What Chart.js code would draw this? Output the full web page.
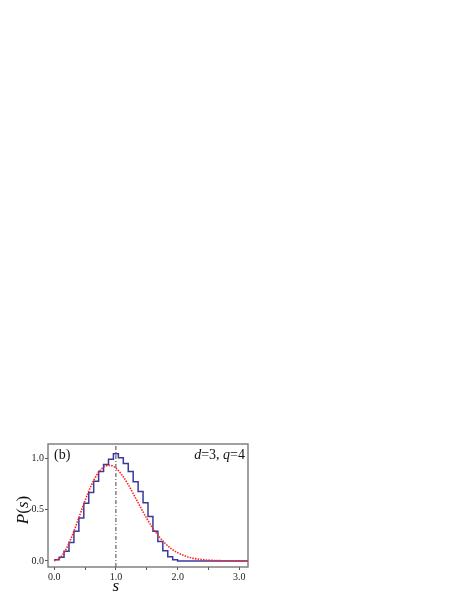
<!DOCTYPE html>
<html>
<head>
<meta charset="utf-8">
<script src="https://cdn.jsdelivr.net/npm/chart.js@4.4.0/dist/chart.umd.min.js"></script>
<style>
  html, body { margin: 0; padding: 0; background: #fff; }
  canvas { display: block; }
</style>
</head>
<body>
<canvas id="spacing" width="469" height="607"></canvas>
<script>
// level spacing histogram (bin width 0.08) and the red dotted surmise curve
var binStarts = [0, 0.08, 0.16, 0.24, 0.32, 0.40, 0.48, 0.56, 0.64, 0.72, 0.80, 0.88, 0.96,
  1.04, 1.12, 1.20, 1.28, 1.36, 1.44, 1.52, 1.60, 1.68, 1.76, 1.84, 1.92, 2.00, 3.14];
var histValues = [0.01, 0.035, 0.095, 0.18, 0.29, 0.42, 0.565, 0.67, 0.78, 0.875, 0.945, 0.995, 1.05,
  1.01, 0.955, 0.875, 0.775, 0.68, 0.57, 0.435, 0.29, 0.19, 0.10, 0.04, 0.01, 0, 0];

var curveS = [0, 0.1, 0.2, 0.3, 0.4, 0.5, 0.6, 0.7, 0.8, 0.9, 1.0, 1.1, 1.2, 1.3, 1.4, 1.5,
  1.6, 1.7, 1.8, 1.9, 2.0, 2.2, 2.4, 2.6, 2.8, 3.0, 3.14];
var curveP = [0, 0.032, 0.123, 0.26, 0.423, 0.59, 0.738, 0.851, 0.919, 0.936, 0.908, 0.84, 0.747,
  0.637, 0.524, 0.416, 0.319, 0.237, 0.17, 0.118, 0.08, 0.033, 0.012, 0.004, 0.001, 0, 0];

var refS = [1.0, 1.0];
var refP = [-0.06, 1.145];

var xTicks = [0, 1, 2, 3];
var yTicks = [0, 0.5, 1];

function pts(xs, ys) {
  return xs.map(function (x, i) { return { x: x, y: ys[i] }; });
}

var serif = "'Liberation Serif', 'DejaVu Serif', serif";

// frame + annotation text
var decor = {
  id: "decor",
  afterDatasetsDraw: function (chart) {
    var ctx = chart.ctx;
    var a = chart.chartArea;
    ctx.save();
    ctx.strokeStyle = "#6e6e6e";
    ctx.lineWidth = 1.3;
    ctx.strokeRect(a.left, a.top, a.right - a.left, a.bottom - a.top);

    ctx.fillStyle = "#111";
    ctx.textBaseline = "middle";
    ctx.font = "14px " + serif;
    ctx.textAlign = "left";
    ctx.fillText("(b)", a.left + 6, a.top + 11);

    // d=3, q=4 (right aligned, mixed italic)
    var parts = [["d", true], ["=3, ", false], ["q", true], ["=4", false]];
    var w = 0;
    parts.forEach(function (p) {
      ctx.font = (p[1] ? "italic " : "") + "14px " + serif;
      w += ctx.measureText(p[0]).width;
    });
    var x = a.right - 3 - w;
    parts.forEach(function (p) {
      ctx.font = (p[1] ? "italic " : "") + "14px " + serif;
      ctx.fillText(p[0], x, a.top + 11);
      x += ctx.measureText(p[0]).width;
    });

    // x title
    ctx.font = "italic 17px " + serif;
    ctx.textAlign = "center";
    ctx.fillText("s", chart.scales.x.getPixelForValue(1), 587);

    // y title P(s), rotated
    var yp = [["P", true], ["(", false], ["s", true], [")", false]];
    ctx.translate(24, 510);
    ctx.rotate(-Math.PI / 2);
    w = 0;
    yp.forEach(function (p) {
      ctx.font = (p[1] ? "italic " : "") + "17px " + serif;
      w += ctx.measureText(p[0]).width;
    });
    x = -w / 2;
    ctx.textAlign = "left";
    yp.forEach(function (p) {
      ctx.font = (p[1] ? "italic " : "") + "17px " + serif;
      ctx.fillText(p[0], x, 0);
      x += ctx.measureText(p[0]).width;
    });
    ctx.restore();
  }
};

var config = {
  type: "line",
  data: {
    datasets: [
      {
        label: "reference",
        data: pts(refS, refP),
        borderColor: "#444444",
        borderWidth: 1,
        borderDash: [4, 2, 1, 2],
        pointRadius: 0,
        fill: false,
      },
      {
        label: "surmise",
        data: pts(curveS, curveP),
        borderColor: "#ff2020",
        borderWidth: 1.6,
        borderDash: [1.5, 1.2],
        cubicInterpolationMode: "monotone",
        pointRadius: 0,
        fill: false,
      },
      {
        label: "histogram",
        data: pts(binStarts, histValues),
        borderColor: "#3a3a9e",
        borderWidth: 1.5,
        // "before": horizontal run at the bin's value, then the jump at the next edge
        stepped: "before",
        pointRadius: 0,
        fill: false,
      },
    ],
  },
  options: {
    responsive: false,
    animation: false,
    layout: {
      padding: { left: 0, top: 444, right: 221, bottom: 0 },
    },
    plugins: {
      legend: { display: false },
      tooltip: { enabled: false },
    },
    scales: {
      x: {
        type: "linear",
        min: -0.1,
        max: 3.14,
        afterFit: function (s) { s.height = 40; },
        border: { display: false },
        grid: {
          drawOnChartArea: false,
          drawTicks: true,
          tickLength: 3,
          tickColor: "#555",
        },
        ticks: {
          stepSize: 0.5,
          includeBounds: false,
          autoSkip: false,
          maxRotation: 0,
          padding: 1,
          color: "#222",
          font: { family: serif, size: 10 },
          callback: function (v) {
            return xTicks.indexOf(v) >= 0 ? v.toFixed(1) : "";
          },
        },
      },
      y: {
        type: "linear",
        min: -0.06,
        max: 1.145,
        afterFit: function (s) { s.width = 48; },
        border: { display: false },
        grid: {
          drawOnChartArea: false,
          drawTicks: true,
          tickLength: 3,
          tickColor: "#555",
        },
        ticks: {
          stepSize: 0.5,
          includeBounds: false,
          padding: 1,
          color: "#222",
          font: { family: serif, size: 10 },
          callback: function (v) {
            return yTicks.indexOf(v) >= 0 ? v.toFixed(1) : "";
          },
        },
      },
    },
  },
  plugins: [decor],
};

var spacing_chart = new Chart(document.getElementById("spacing").getContext("2d"), config);
</script>
</body>
</html>
